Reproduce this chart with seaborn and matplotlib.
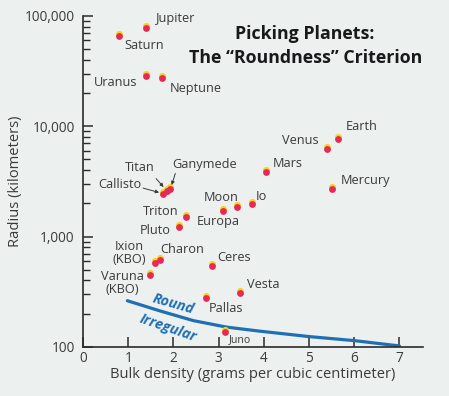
import numpy as np
import pandas as pd
import matplotlib
matplotlib.use("Agg")
import matplotlib.pyplot as plt
import matplotlib.transforms as mtransforms
from matplotlib.ticker import FuncFormatter, LogLocator, NullFormatter, FixedLocator
import seaborn as sns

# values
bodies = ["Jupiter", "Saturn", "Uranus", "Neptune", "Earth", "Venus", "Mercury",
          "Mars", "Io", "Moon", "Europa", "Ganymede", "Titan", "Callisto",
          "Triton", "Pluto", "Charon", "Ixion\n(KBO)", "Varuna\n(KBO)",
          "Ceres", "Vesta", "Pallas", "Juno"]
density = [1.39, 0.80, 1.39, 1.75, 5.65, 5.40, 5.50,
           4.04, 3.73, 3.40, 3.10, 1.93, 1.86, 1.77,
           2.27, 2.13, 1.70, 1.59, 1.48,
           2.86, 3.47, 2.73, 3.13]
radius = [77800, 65400, 28500, 27500, 7660, 6210, 2720,
          3820, 1980, 1850, 1700, 2670, 2580, 2450,
          1500, 1220, 610, 570, 450,
          540, 305, 275, 137]

# round / irregular boundary
curve_density = [0.98, 1.70, 2.44, 3.18, 3.90, 5.00, 6.00, 7.00]
curve_radius = [262, 212, 173, 151, 139, 124, 114, 102]

x_ticks = [0, 1, 2, 3, 4, 5, 6, 7]
y_ticks = [100, 1000, 10000, 100000]

# label placement (offset in px from the dot, centred text)
label_offsets = {
    "Jupiter": (30, -9), "Saturn": (25, 9.5), "Uranus": (-30, 7),
    "Neptune": (34, 11), "Earth": (23.5, -12), "Venus": (-27, -8.5),
    "Mercury": (33.5, -8), "Mars": (22.5, -8.5), "Io": (10, -7),
    "Moon": (-15.5, -10), "Europa": (-4.5, 10), "Triton": (-25, -6),
    "Pluto": (-24, 3.5), "Charon": (22, -10.5), "Ixion\n(KBO)": (-25.5, -10.5),
    "Varuna\n(KBO)": (-28, 8), "Ceres": (22, -9), "Vesta": (23.5, -8.5),
    "Pallas": (19.5, 10), "Juno": (15.5, 7.5),
}
# labels with arrows: name -> (text centre, arrow start, arrow end), px from the dot
arrow_labels = {
    "Titan": ((-27, -24), (-11, -12.5), (-3, -4.5)),
    "Ganymede": ((34, -25), (5, -16), (1, -4.5)),
    "Callisto": ((-43, -9), (-20, -5.5), (-4, -1)),
}

df = pd.DataFrame({"body": bodies, "density": density, "radius": radius})
curve = pd.DataFrame({"density": curve_density, "radius": curve_radius})

bg = "#ecf0ee"
ink = "#3a3a3c"
blue = "#1f6fb4"

sns.set_style("ticks")
plt.rcParams["font.family"] = ["Open Sans", "DejaVu Sans"]

fig = plt.figure(figsize=(4.49, 3.96), dpi=100, facecolor=bg)
ax = fig.add_axes([0.185, 0.124, 0.757, 0.836])
ax.set_facecolor(bg)
ax.set_yscale("log")

px = 72 / fig.dpi  # points per pixel

sns.lineplot(data=curve, x="density", y="radius", sort=False, color=blue,
             linewidth=2.3, ax=ax, zorder=2)

up = ax.transData + mtransforms.ScaledTranslation(0, 2.0 / fig.dpi, fig.dpi_scale_trans)
sns.scatterplot(data=df, x="density", y="radius", color="#f6d41c", s=26,
                linewidth=0, ax=ax, transform=up, zorder=3)
sns.scatterplot(data=df, x="density", y="radius", color="#e42a55", s=24,
                linewidth=0, ax=ax, zorder=4)

for name, x, y in zip(bodies, density, radius):
    if name in label_offsets:
        dx, dy = label_offsets[name]
        fs = 7.6 if name == "Juno" else 9.2
        ax.annotate(name, (x, y), xytext=(dx * px, -dy * px), textcoords="offset points",
                    ha="center", va="center", fontsize=fs, color=ink,
                    linespacing=0.95)
    elif name in arrow_labels:
        (tx, ty), (sx, sy), (ex, ey) = arrow_labels[name]
        ax.annotate(name, (x, y), xytext=(tx * px, -ty * px), textcoords="offset points",
                    ha="center", va="center", fontsize=9.2, color=ink)
        gap = np.hypot(ex, ey) * px
        ax.annotate("", xy=(x, y), xytext=(sx * px, -sy * px), textcoords="offset points",
                    arrowprops=dict(arrowstyle="-|>", color=ink, lw=0.7,
                                    mutation_scale=5, shrinkA=0, shrinkB=gap))

ax.text(2.0, 243, "Round", rotation=-16, fontsize=10.3, fontweight="bold",
        fontstyle="italic", color=blue, ha="center", va="center")
ax.text(1.88, 148, "Irregular", rotation=-19, fontsize=10.3, fontweight="bold",
        fontstyle="italic", color=blue, ha="center", va="center")

fig.text(0.679, 0.914, "Picking Planets:", ha="center", va="center",
         fontsize=12.8, fontweight="bold", color="#17191b")
fig.text(0.681, 0.853, "The \u201cRoundness\u201d Criterion", ha="center", va="center",
         fontsize=12.8, fontweight="bold", color="#17191b")

ax.set_xlim(0, 7.52)
ax.set_ylim(100, 100000)
ax.xaxis.set_major_locator(FixedLocator(x_ticks))
ax.yaxis.set_major_locator(FixedLocator(y_ticks))
ax.yaxis.set_minor_locator(LogLocator(base=10, subs=np.arange(2, 10)))
ax.yaxis.set_minor_formatter(NullFormatter())
ax.yaxis.set_major_formatter(FuncFormatter(lambda v, p: f"{int(v):,}"))
ax.tick_params(axis="both", which="major", direction="in", length=7, width=1.1,
               color="#2a2a2a", labelsize=9.8, labelcolor=ink, pad=3)
ax.tick_params(axis="y", which="major", pad=6)
ax.tick_params(axis="y", which="minor", direction="in", length=5, width=1.0,
               color="#2a2a2a")
ax.tick_params(axis="x", which="minor", bottom=False)
for s in ["top", "right"]:
    ax.spines[s].set_visible(False)
for s in ["left", "bottom"]:
    ax.spines[s].set_color("#2a2a2a")
    ax.spines[s].set_linewidth(1.2)

ax.set_xlabel("Bulk density (grams per cubic centimeter)", fontsize=10.6,
              color=ink, labelpad=1)
ax.set_ylabel("Radius (kilometers)", fontsize=10.6, color=ink, labelpad=1)

fig.savefig("out.png", dpi=100, facecolor=bg)
